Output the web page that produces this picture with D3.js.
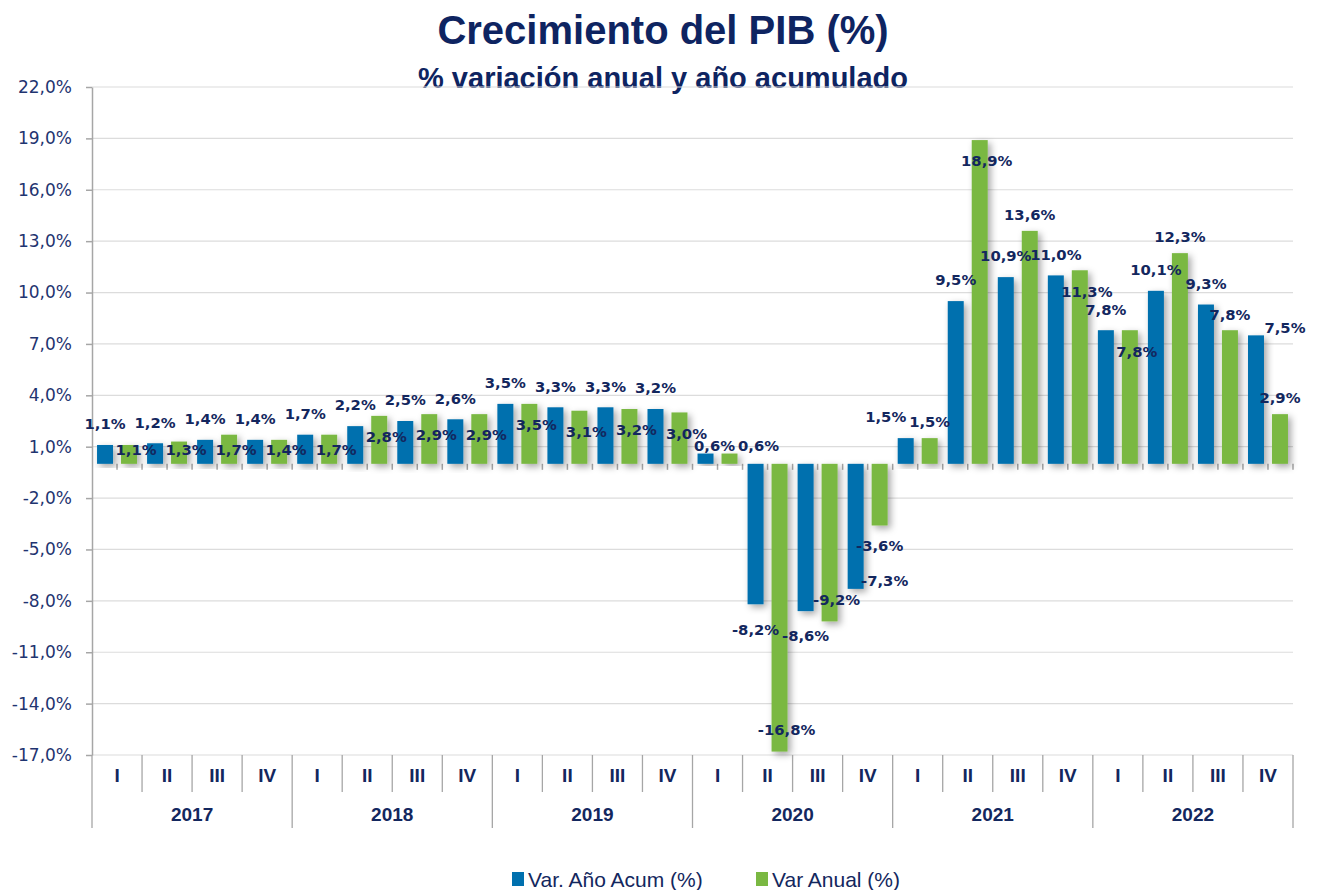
<!DOCTYPE html>
<html>
<head>
<meta charset="utf-8">
<script src="https://cdn.jsdelivr.net/npm/d3@7"></script>
<style>
  body { margin: 0; background: #fff; }
  svg { display: block; }
</style>
</head>
<body>
<div id="chart"></div>
<script>
// datos
const years = ["2017", "2018", "2019", "2020", "2021", "2022"]
const quarters = ["I", "II", "III", "IV"]

// Var. Año Acum (%)
const acumulado = [1.1, 1.2, 1.4, 1.4,  1.7, 2.2, 2.5, 2.6,  3.5, 3.3, 3.3, 3.2,
                   0.6, -8.2, -8.6, -7.3,  1.5, 9.5, 10.9, 11.0,  7.8, 10.1, 9.3, 7.5]
// Var Anual (%)
const anual = [1.1, 1.3, 1.7, 1.4,  1.7, 2.8, 2.9, 2.9,  3.5, 3.1, 3.2, 3.0,
               0.6, -16.8, -9.2, -3.6,  1.5, 18.9, 13.6, 11.3,  7.8, 12.3, 7.8, 2.9]

const yTicks = [22, 19, 16, 13, 10, 7, 4, 1, -2, -5, -8, -11, -14, -17]

// donde va cada etiqueta: o = fuera, i = dentro, r = a la derecha, l = a la izquierda, q = fuera pegada
const posAcum = ["o","o","o","o", "o","o","o","o", "o","o","o","o",
                 "q","o","o","r", "l","o","o","o", "o","o","o","r"]
const posAnual = ["i","i","i","i", "i","i","i","i", "i","i","i","i",
                  "r","i","i","o", "o","i","o","i", "i","o","o","o"]

const series = [
  { name: "Var. Año Acum (%)", values: acumulado, pos: posAcum, color: "#0070AE", fuera: 21, dentro: 0 },
  { name: "Var Anual (%)", values: anual, pos: posAnual, color: "#7AB842", fuera: 16, dentro: 7 }
]

const ancho = 1321
const alto = 890
const margen = { izquierdo: 92, derecho: 28, superior: 87, inferior: 135 }
const azulTexto = "#13275E"

const cats = []
years.forEach(a => quarters.forEach(q => cats.push(a + "-" + q)))

const svg = d3.select("#chart").append("svg").attr("width", ancho).attr("height", alto)

const defs = svg.append("defs")
const sombra = defs.append("filter").attr("id", "sombra")
  .attr("x", "-60%").attr("y", "-20%").attr("width", "220%").attr("height", "140%")
sombra.append("feDropShadow").attr("dx", 3).attr("dy", 3).attr("stdDeviation", 3.5)
  .attr("flood-color", "#000").attr("flood-opacity", 0.35)

const x = d3.scaleBand().domain(cats).range([margen.izquierdo, ancho - margen.derecho])
const x1 = d3.scaleBand().domain([0, 1]).range([0, x.bandwidth()]).paddingInner(1/3).paddingOuter(0.21)
const y = d3.scaleLinear().domain([-17, 22]).range([alto - margen.inferior, margen.superior])

const fmt = d => d3.format(".1f")(d).replace(".", ",").replace("−", "-") + "%"

// titulos
svg.append("text").attr("x", 663).attr("y", 44).attr("text-anchor", "middle")
  .style("font-family", "Liberation Sans, Arial, sans-serif").style("font-weight", "bold")
  .style("font-size", "40px").attr("fill", "#0E2461").text("Crecimiento del PIB (%)")
svg.append("text").attr("x", 663).attr("y", 88).attr("text-anchor", "middle")
  .style("font-family", "Liberation Sans, Arial, sans-serif").style("font-weight", "bold")
  .style("font-size", "29px").attr("fill", "#0E2461").text("% variación anual y año acumulado")

// rejilla
svg.append("g").selectAll("line").data(yTicks).enter().append("line")
  .attr("x1", margen.izquierdo).attr("x2", ancho - margen.derecho)
  .attr("y1", d => y(d)).attr("y2", d => y(d))
  .attr("stroke", "#DCDCDC").attr("stroke-width", 1.2)

// eje Y
const ejeY = d3.axisLeft(y).tickValues(yTicks).tickSize(6).tickSizeOuter(0).tickFormat(fmt)
const grupoY = svg.append("g").attr("transform", `translate(${margen.izquierdo},0)`).call(ejeY)
grupoY.select(".domain").attr("stroke", "#A6A6A6").attr("stroke-width", 1.5)
grupoY.selectAll(".tick line").attr("stroke", "#A6A6A6").attr("stroke-width", 1.5)
grupoY.selectAll(".tick text").attr("x", -20).attr("fill", "#1F3470")
  .style("font-family", "DejaVu Sans, Verdana, sans-serif").style("font-size", "17px")

// linea del cero con su sombra
svg.append("line").attr("x1", margen.izquierdo).attr("x2", ancho - margen.derecho)
  .attr("y1", y(0)).attr("y2", y(0)).attr("stroke", "#B5B5B5").attr("stroke-width", 2)
  .attr("filter", "url(#sombra)")
const medios = []
cats.forEach(c => { medios.push(x(c) + x.bandwidth() / 2); medios.push(x(c) + x.bandwidth()) })
svg.append("g").selectAll("line").data(medios).enter().append("line")
  .attr("x1", d => d).attr("x2", d => d).attr("y1", y(0)).attr("y2", y(0) + 6)
  .attr("stroke", "#A6A6A6").attr("stroke-width", 1.5)

// barras
const grupoBarras = svg.append("g")
series.forEach((s, si) => {
  grupoBarras.selectAll(".b" + si).data(s.values).enter().append("rect")
    .attr("class", "b" + si)
    .attr("x", (d, i) => x(cats[i]) + x1(si))
    .attr("width", x1.bandwidth())
    .attr("y", d => y(Math.max(0, d)))
    .attr("height", d => Math.abs(y(d) - y(0)))
    .attr("fill", s.color)
    .attr("filter", "url(#sombra)")
})

// etiquetas de datos
const grupoEtiquetas = svg.append("g")
series.forEach((s, si) => {
  grupoEtiquetas.selectAll(".t" + si).data(s.values).enter().append("text")
    .attr("x", (d, i) => {
      const cx = x(cats[i]) + x1(si) + x1.bandwidth() / 2
      const p = s.pos[i]
      if (p === "r") return cx + 29
      if (p === "l") return cx - 20
      if (p === "q") return cx + 9
      if (p === "i") return cx + s.dentro
      return cx
    })
    .attr("y", (d, i) => {
      const fin = y(d)
      const p = s.pos[i]
      if (p === "o" || p === "l") return d >= 0 ? fin - s.fuera : fin + s.fuera + 4
      if (p === "q") return fin - 8
      if (p === "i") {
        if (d < 0) return fin - 22
        return Math.min(fin + 21, y(0) - 14)
      }
      return fin - 8
    })
    .attr("dy", "0.36em")
    .attr("text-anchor", "middle")
    .style("font-family", "DejaVu Sans, Verdana, sans-serif").style("font-weight", "bold")
    .style("font-size", "14.8px").attr("fill", azulTexto)
    .text(d => fmt(d))
})

// eje de categorias (trimestres y años)
const base = y(-17)
const grupoX = svg.append("g")
const bordes = cats.map(c => x(c)).concat([x(cats[cats.length - 1]) + x.bandwidth()])
grupoX.selectAll("line").data(bordes).enter().append("line")
  .attr("x1", d => d).attr("x2", d => d)
  .attr("y1", base)
  .attr("y2", (d, i) => i % 4 === 0 ? base + 73 : base + 37)
  .attr("stroke", "#A6A6A6").attr("stroke-width", 1.3)
grupoX.selectAll(".q").data(cats).enter().append("text")
  .attr("x", d => x(d) + x.bandwidth() / 2).attr("y", base + 27)
  .attr("text-anchor", "middle")
  .style("font-family", "Liberation Sans Narrow, Liberation Sans, Arial, sans-serif")
  .style("font-weight", "bold").style("font-size", "19px").attr("fill", azulTexto)
  .text(d => d.split("-")[1])
grupoX.selectAll(".a").data(years).enter().append("text")
  .attr("x", d => x(d + "-I") + x.bandwidth() * 2).attr("y", base + 66)
  .attr("text-anchor", "middle")
  .style("font-family", "Liberation Sans, Arial, sans-serif")
  .style("font-weight", "bold").style("font-size", "19px").attr("fill", azulTexto)
  .text(d => d)

// leyenda
const leyenda = svg.append("g")
const posLeyenda = [512, 756]
series.forEach((s, si) => {
  leyenda.append("rect").attr("x", posLeyenda[si]).attr("y", 872).attr("width", 12).attr("height", 14)
    .attr("fill", s.color)
  leyenda.append("text").attr("x", posLeyenda[si] + 16).attr("y", 887)
    .style("font-family", "Liberation Sans, Arial, sans-serif").style("font-size", "21px")
    .attr("fill", azulTexto).text(s.name)
})
</script>
</body>
</html>
